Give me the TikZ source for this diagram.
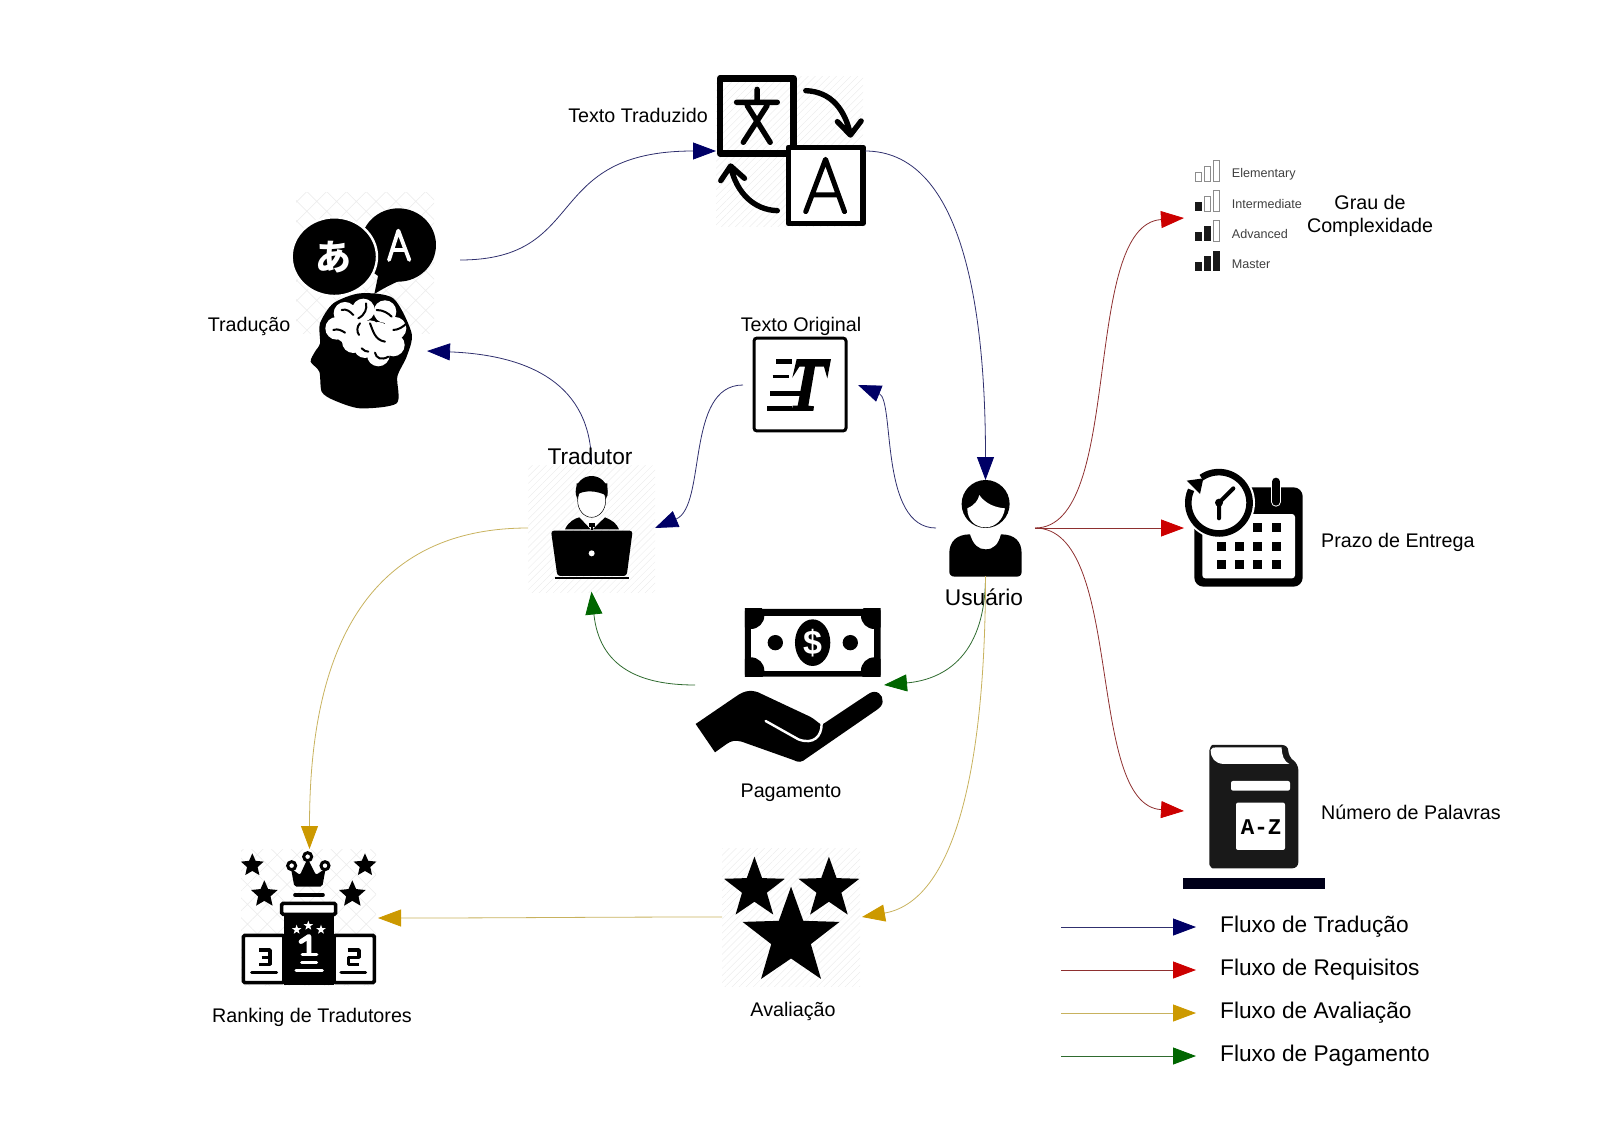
\documentclass[tikz,border=0pt]{standalone}
\usepackage{fontspec}
\setmainfont{Liberation Sans}
\newfontfamily\cjkfam{Noto Sans CJK JP}
\newfontfamily\monofam{Liberation Mono}
\usepackage{tikz}
\usetikzlibrary{arrows.meta,patterns.meta,shapes.geometric}
\definecolor{fluxonavy}{HTML}{000066}
\definecolor{fluxored}{HTML}{CC0000}
\definecolor{fluxogold}{HTML}{CC9900}
\definecolor{fluxogreen}{HTML}{006600}
\definecolor{lfluxonavy}{HTML}{30306E}
\definecolor{lfluxored}{HTML}{8E2F2F}
\definecolor{lfluxogold}{HTML}{C8B25E}
\definecolor{lfluxogreen}{HTML}{2F6B2F}
\tikzset{
  hachura/.style={pattern={Lines[angle=45,distance=5pt,line width=.5pt]},pattern color=black!7},
  trama/.style={pattern={Hatch[angle=45,distance=14pt,line width=.7pt]},pattern color=black!7},
  rotulo/.style={font=\fontsize{19.7}{23}\selectfont,inner sep=0pt,align=center},
  rotulog/.style={font=\fontsize{22.7}{26}\selectfont,inner sep=0pt,align=center},
  fluxo/.style={line width=.8pt,draw=l#1,-{Triangle[length=23pt,width=17pt,color=#1,fill=#1]}},
  estrela/.style={star,star points=5,star point ratio=2.45,fill=#1,inner sep=0pt,outer sep=0pt},
  icone/.style={draw=none,inner sep=0,outer sep=0},
  zumA/.style={shift={(270,60)},xscale=0.3954,yscale=0.3333},
  zumB/.style={shift={(1170,140)},scale=0.3333},
  zumC/.style={shift={(520,440)},scale=0.3333},
  zumD/.style={shift={(1170,460)},scale=0.3333},
  zumE/.style={shift={(220,830)},xscale=0.4208,yscale=0.3333},
  zumH/.style={shift={(290,200)},scale=0.3333},
  zumT/.style={shift={(750,335)},scale=0.3333},
  zumP/.style={shift={(235,845)},scale=0.3333},
}
\begin{document}
\begin{tikzpicture}[x=1pt,y=-1pt]
  \useasboundingbox (0,0) rectangle (1600,1132);
  % nos invisiveis dos icones
  \node[icone,minimum width=149pt,minimum height=150pt] (textoTrad) at (790.5,151) {};
  \node[icone,minimum width=115pt,minimum height=92pt] (textoOrig) at (800.5,385) {};
  \node[icone,minimum width=127pt,minimum height=127pt] (tradutor) at (591.5,528) {};
  \node[icone,minimum width=99pt,minimum height=96pt] (usuario) at (985.5,528) {};
  \node[icone,minimum width=189pt,minimum height=150pt] (pagamento) at (789.5,685) {};
  \node[icone,minimum width=121pt,minimum height=116pt] (prazo) at (1244.5,528) {};
  \node[icone,minimum width=126pt,minimum height=125pt] (grau) at (1247,218) {};
  \node[icone,minimum width=146pt,minimum height=152pt] (numero) at (1257,811) {};
  \node[icone,minimum width=140pt,minimum height=138pt] (avaliacao) at (792,917) {};
  \node[icone,minimum width=137pt,minimum height=138pt] (ranking) at (309.5,918) {};
  \coordinate (traducaoSai) at (460,260);
  \coordinate (traducaoEntra) at (427,351);
  % fundos hachurados
  \fill[hachura] (716,76) rectangle (863,226);
  \fill[hachura] (528,465) rectangle (655,592);
  \fill[hachura] (722,848) rectangle (860,986);
  \fill[trama] (296,192) rectangle (434,333);
  \fill[trama] (241,849) rectangle (376,985);

  % Traducao
  \begin{scope}[zumH]
    \fill (325,135) ellipse (113 and 110);
    \fill (270,200) -- (253,282) .. controls (285,262) and (310,250) .. (345,235) -- cycle;
    \filldraw[draw=white,line width=2.4pt,fill=black] (133,170) ellipse (128 and 118);
    \draw[white,line width=3.8pt,line cap=round,line join=round] (297,180) -- (325,92) -- (358,180) (307,150) -- (346,150);
    \node[white,font=\cjkfam\bfseries\fontsize{36}{36}\selectfont,inner sep=0pt] (letraJ) at (130,172) {あ};
    \fill plot[smooth cycle,tension=.45] coordinates {(210,280) (310,295) (365,400) (350,470) (322,530) (320,610) (210,625) (130,600) (95,575) (88,515) (62,485) (75,455) (90,430) (90,370) (130,310)};
    \foreach \bx/\by in {165/340,220/330,285/335,315/385,310/435,265/465,190/425,140/385,240/395,200/375,265/400,170/395,290/420,225/440}
      \fill[white] (\bx,\by) circle (34);
    \draw[line width=2pt,line cap=round] (155,330) .. controls (170,325) and (180,335) .. (190,345)
      (228,310) .. controls (232,325) and (225,345) .. (205,355)
      (260,330) .. controls (280,330) and (295,340) .. (305,350)
      (210,370) .. controls (200,380) and (200,395) .. (207,405)
      (240,370) .. controls (250,395) and (255,420) .. (285,425)
      (310,390) .. controls (325,390) and (340,380) .. (350,370)
      (130,390) .. controls (145,385) and (155,392) .. (165,398)
      (215,445) .. controls (222,452) and (228,455) .. (235,455)
      (255,458) .. controls (258,475) and (275,482) .. (295,470);
  \end{scope}

  % Texto Traduzido
  \begin{scope}[zumA]
    \draw[line width=6.4pt,line join=round] (1138,55) rectangle (1324,280);
    \draw[line width=5.4pt,line cap=round] (1232,88) -- (1232,125) (1180,127) -- (1283,127) (1207,137) -- (1265,247) (1257,137) -- (1197,247);
    \filldraw[draw=black,fill=white,line width=5.6pt,line join=round] (1311,262) rectangle (1500,490);
    \draw[line width=5pt,line cap=round,line join=round] (1355,455) -- (1405,298) -- (1453,455) (1372,405) -- (1438,405);
    \draw[line width=5.4pt,line cap=round,line join=round] (1355,92) .. controls (1420,95) and (1455,150) .. (1468,225) (1435,185) -- (1468,225) -- (1495,183);
    \draw[line width=5.4pt,line cap=round,line join=round] (1283,452) .. controls (1225,450) and (1180,400) .. (1165,320) (1140,362) -- (1165,318) -- (1200,355);
  \end{scope}

  % Texto Original
  \begin{scope}[zumT]
    \draw[line width=3pt,rounded corners=3pt] (12,9) rectangle (288,288);
    \fill (140,72) -- (243,72) -- (232,130) -- (222,95) -- (195,95) -- (175,212) -- (192,214) -- (190,228) -- (125,228) -- (128,212) -- (143,212) -- (165,95) -- (148,95) -- (127,128) -- cycle;
    \draw[line width=4.4pt] (79,80) -- (126,80) (52,220) -- (125,220) (60,175) -- (152,175);
    \draw[line width=3.4pt] (68,125) -- (118,125);
  \end{scope}

  % Tradutor e Usuario
  \begin{scope}[zumC]
    \fill (215,155) ellipse (48 and 47);
    \fill (135,268) .. controls (145,245) and (165,235) .. (178,232) -- (212,268) -- (218,268) -- (255,232) .. controls (275,240) and (290,250) .. (297,268) -- cycle;
    \filldraw[draw=black,line width=.5pt,fill=white] (215,182) ellipse (42 and 50);
    \fill (170,165) .. controls (190,150) and (230,150) .. (262,168) -- (262,130) -- (170,130) -- cycle;
    \fill[white] (190,240) -- (215,268) -- (242,240) -- cycle;
    \fill (207,248) rectangle (224,262);
    \fill (212,260) rectangle (220,270);
    \fill[rounded corners=3pt] (93,272) -- (338,272) -- (320,408) -- (112,408) -- cycle;
    \fill[white] (215,340) circle (9);
    \draw[line width=2pt] (105,415) -- (327,415);
    % usuario
    \fill (1397,192) circle (72);
    \fill[white] (1342,205) .. controls (1365,195) and (1375,180) .. (1378,165) .. controls (1395,190) and (1425,203) .. (1455,205) .. controls (1450,240) and (1425,262) .. (1397,262) .. controls (1365,262) and (1342,240) .. (1342,205) -- cycle;
    \fill (1288,340) .. controls (1288,305) and (1310,283) .. (1350,283) .. controls (1360,315) and (1375,328) .. (1397,328) .. controls (1420,328) and (1435,315) .. (1443,283) .. controls (1485,283) and (1505,305) .. (1505,340) -- (1505,395) .. controls (1505,405) and (1500,410) .. (1490,410) -- (1305,410) .. controls (1295,410) and (1288,405) .. (1288,395) -- cycle;
  \end{scope}

  % Pagamento
  \begin{scope}[zumC]
    \fill[rounded corners=2pt] (675,507) rectangle (1082,710);
    \begin{scope}
      \clip (675,507) rectangle (1082,710);
      \fill[white] (693,527) rectangle (1063,692);
      \foreach \cx/\cy in {693/527,1063/527,693/692,1063/692}
        \fill (\cx,\cy) circle (40);
    \end{scope}
    \fill (878,608) ellipse (53 and 70);
    \fill (766,608) circle (23);
    \fill (991,608) circle (23);
    \node[white,font=\bfseries\fontsize{34}{34}\selectfont,inner sep=0pt] (cifrao) at (878,608) {\$};
    \fill[line join=round] (527,852) -- (650,768) .. controls (675,750) and (700,748) .. (725,762) -- (870,830) .. controls (885,838) and (890,845) .. (905,855) -- (1045,762) .. controls (1070,745) and (1090,765) .. (1088,785) .. controls (1088,795) and (1080,803) .. (1070,810) -- (860,955) .. controls (845,968) and (835,968) .. (820,960) -- (665,905) .. controls (645,900) and (635,902) .. (620,912) -- (585,937) -- cycle;
    \draw[white,line width=2.4pt,line cap=round] (737,843) -- (835,898) .. controls (880,915) and (905,890) .. (905,852);
  \end{scope}

  % Grau de complexidade
  \begin{scope}[zumB]
    \foreach \base/\cheias in {124/0,214/1,304/2,394/3} {
      \foreach \bar/\bx/\alt in {1/76/27,2/103/45,3/130/62} {
        \ifnum\bar>\cheias
          \draw[black!45,line width=.8pt] (\bx,\base) rectangle ++(19,-\alt);
        \else
          \fill[black!90] (\bx,\base) rectangle ++(20,-\alt);
        \fi
      }
    }
    \foreach \ny/\nome in {103/Elementary,193/Intermediate,283/Advanced,373/Master}
      \node[anchor=west,inner sep=0pt,text=black!75,font=\fontsize{12.6}{14}\selectfont] (nivel\nome) at (185,\ny) {\nome};
  \end{scope}

  % Prazo de entrega
  \begin{scope}[zumD]
    \fill[rounded corners=9pt] (73,82) rectangle (398,380);
    \fill[white,rounded corners=3pt] (97,162) rectangle (375,355);
    \draw[white,line width=10pt,line cap=round] (318,65) -- (318,125);
    \draw[line width=8pt,line cap=round] (318,65) -- (318,125);
    \foreach \qx in {250,305}
      \fill (\qx,190) rectangle ++(27,27);
    \foreach \qy in {245,300}
      \foreach \qx in {140,195,250,305}
        \fill (\qx,\qy) rectangle ++(27,27);
    \fill[white] (147,128) circle (108);
    \draw[line width=6.6pt] (94,53) arc[start angle=-125,end angle=205,radius=92];
    \fill (50,62) -- (100,55) -- (90,102) -- cycle;
    \draw[line width=4pt,line cap=round] (147,128) -- (190,85) (147,128) -- (147,175);
    \fill (147,128) circle (12);
  \end{scope}

  % Numero de palavras
  \begin{scope}[zumD]
    \fill[black!90,rounded corners=6pt] (118,890) .. controls (118,865) and (125,855) .. (145,855) -- (355,855) -- (355,890) -- (385,912) -- (385,1225) -- (145,1225) .. controls (125,1225) and (118,1215) .. (118,1195) -- cycle;
    \fill[white] (122,870) .. controls (125,863) and (130,862) .. (140,862) -- (335,862) .. controls (335,885) and (342,905) .. (358,912) -- (160,912) .. controls (135,910) and (122,895) .. (122,870) -- cycle;
    \fill[white,rounded corners=2pt] (183,963) rectangle (360,992);
    \fill[white,rounded corners=2pt] (198,1028) rectangle (345,1170);
    \node[font=\monofam\bfseries\fontsize{22.5}{23}\selectfont,inner sep=0pt] (letrasAZ) at (273,1100) {A-Z};
    \fill[black!90!blue] (38,1253) rectangle (465,1288);
  \end{scope}

  % Ranking
  \begin{scope}[zumP]
    \foreach \ex/\ey/\er [count=\ei] in {52/61/24,390/61/24,88/148/28,352/148/28}
      \node[estrela=black,star point ratio=2.15,minimum size=\er pt] (rankEst\ei) at (\ex,\ey) {};
    \fill[rounded corners=2pt] (178,125) -- (262,125) -- (272,70) -- (243,90) -- (218,40) -- (195,90) -- (168,70) -- cycle;
    \filldraw[fill=white,line width=3pt] (218,35) circle (12) (170,62) circle (12) (270,62) circle (12);
    \draw[line width=3.6pt,line cap=round] (180,150) -- (264,150);
    \fill (147,205) rectangle (297,420);
    \filldraw[fill=white,line width=3.6pt,rounded corners=1.5pt] (25,271) rectangle (147,413);
    \filldraw[fill=white,line width=3.6pt,rounded corners=1.5pt] (297,271) rectangle (418,413);
    \filldraw[fill=white,line width=3.6pt,rounded corners=1.5pt] (140,175) rectangle (302,208);
    \foreach \ex/\ey [count=\ei] in {185/254,220/242,258/254}
      \node[estrela=white,minimum size=10pt] (rankPeq\ei) at (\ex,\ey) {};
    \draw[white,line width=4.6pt,line cap=round,line join=round] (198,290) -- (222,274) -- (222,325);
    \draw[white,line width=3.6pt,line cap=round] (202,329) -- (245,329);
    \draw[white,line width=3pt,line cap=round] (200,352) -- (245,352) (183,378) -- (262,378);
    \draw[line width=3.4pt,line join=round] (72,315) -- (105,315) -- (105,358) -- (72,358) (80,337) -- (105,337);
    \draw[line width=3.4pt,line join=round] (338,315) -- (372,315) -- (372,337) -- (340,337) -- (340,358) -- (372,358);
    \draw[line width=3pt,line cap=round] (50,382) -- (125,382) (318,382) -- (392,382);
  \end{scope}

  % Avaliacao
  \begin{scope}[zumE]
    \node[estrela=black,minimum size=64pt] (avalEsq) at (1270,176) {};
    \node[estrela=black,minimum size=64pt] (avalDir) at (1447,176) {};
    \node[estrela=black,minimum size=102pt] (avalMeio) at (1357,323) {};
  \end{scope}

  % fluxos
  \draw[fluxo=fluxonavy] (traducaoSai) .. controls +(130,0) and +(-175,0) .. (textoTrad.west);
  \draw[fluxo=fluxonavy] (textoTrad.east) .. controls +(95,0) and +(0,-180) .. (usuario.north);
  \draw[fluxo=fluxonavy] (usuario.west) .. controls +(-57,0) and +(37,15) .. (textoOrig.east);
  \draw[fluxo=fluxonavy] (textoOrig.west) .. controls +(-58,0) and +(52,-22) .. (tradutor.east);
  \draw[fluxo=fluxonavy] (tradutor.north) .. controls +(0,-80) and +(103,4) .. (traducaoEntra);
  \draw[fluxo=fluxored] (usuario.east) .. controls +(90,0) and +(-104,7) .. (grau.west);
  \draw[fluxo=fluxored] (usuario.east) -- (prazo.west);
  \draw[fluxo=fluxored] (usuario.east) .. controls +(90,0) and +(-99,-6) .. (numero.west);
  \draw[fluxo=fluxogreen] (usuario.south) .. controls +(0,85) and +(55,-5) .. (pagamento.east);
  \draw[fluxo=fluxogreen] (pagamento.west) .. controls +(-55,0) and +(8,76) .. (tradutor.south);
  \draw[fluxo=fluxogold] (usuario.south) .. controls +(0,173) and +(98,-17) .. (avaliacao.east);
  \draw[fluxo=fluxogold] (avaliacao.west) .. controls +(-140,0) and +(140,0) .. (ranking.east);
  \draw[fluxo=fluxogold] (tradutor.west) .. controls +(-190,0) and +(0,-150) .. (ranking.north);

  % rotulos
  \node[rotulo] (lbTraduzido) at (638,115) {Texto Traduzido};
  \node[rotulo] (lbTraducao) at (249,326.5) {Tradução};
  \node[rotulo] (lbOriginal) at (801,326.5) {Texto Original};
  \node[rotulog] (lbTradutor) at (590,456) {Tradutor};
  \node[rotulog] (lbUsuario) at (984,597) {Usuário};
  \node[rotulo] (lbPagamento) at (791,793) {Pagamento};
  \node[rotulo] (lbAvaliacao) at (793,1011) {Avaliação};
  \node[rotulo] (lbRanking) at (312,1017) {Ranking de Tradutores};
  \node[rotulo] (lbGrau) at (1370,216) {Grau de\\Complexidade};
  \node[rotulo,anchor=west] (lbPrazo) at (1321,542) {Prazo de Entrega};
  \node[rotulo,anchor=west] (lbNumero) at (1321,812.5) {Número de Palavras};

  % legenda
  \foreach \ly/\cor/\txt in {927/fluxonavy/Fluxo de Tradução,970/fluxored/Fluxo de Requisitos,1013/fluxogold/Fluxo de Avaliação,1056/fluxogreen/Fluxo de Pagamento} {
    \coordinate (legIni\ly) at (1061,\ly);
    \coordinate (legFim\ly) at (1196,\ly);
    \draw[fluxo=\cor] (legIni\ly) -- (legFim\ly);
    \node[rotulog,anchor=west] (leg\ly) at (1220,\ly) {\txt};
  }
\end{tikzpicture}
\end{document}
